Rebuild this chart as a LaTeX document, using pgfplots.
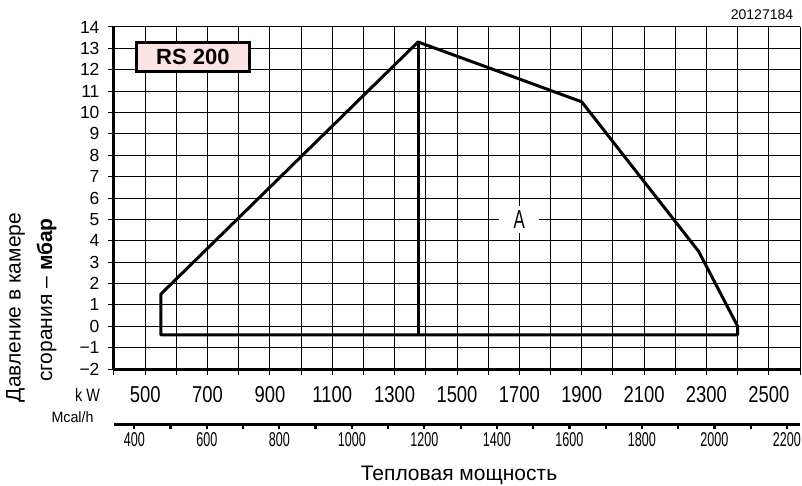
\documentclass[border=0pt]{standalone}
\usepackage{pgfplots}
\pgfplotsset{compat=1.18}
\usepackage{fontspec}
\setmainfont{Liberation Sans}
\usepackage{graphicx}
\definecolor{boxpink}{RGB}{252,228,228}
\newcommand\nar[2]{\scalebox{#1}[1]{#2}}
\begin{document}
\begin{tikzpicture}
\path[use as bounding box] (-114pt,-116pt) rectangle (688pt,369pt);
\begin{axis}[
 at={(0pt,0pt)}, anchor=south west,
 scale only axis, width=686pt, height=342pt,
 xmin=400, xmax=2600, ymin=-2, ymax=14,
 xtick={500,700,...,2500}, minor xtick={400,600,...,2600},
 ytick={-2,-1,...,14},
 yticklabels={−2,−1,0,1,2,3,4,5,6,7,8,9,10,11,12,13,14},
 xticklabel={\nar{0.8}{\pgfmathprintnumber[fixed,precision=0,1000 sep={},assume math mode=true]{\tick}}},
 grid=both,
 major grid style={black, line width=1pt},
 minor grid style={black, line width=1pt},
 axis x line=bottom, axis y line=left,
 xtick pos=bottom, ytick pos=left,
 axis line style={black, line width=3pt, -},
 tick align=outside, major tick length=6pt, minor tick length=6pt,
 every tick/.append style={black, line width=1pt},
 yticklabel style={font=\fontsize{17.5}{17.5}\selectfont, xshift=-5pt},
 xticklabel style={font=\fontsize{23}{23}\selectfont, inner sep=0pt, anchor=north, yshift=-11pt},
 clip=false,
]
\addplot[black, line width=3pt, line join=round, line cap=round] coordinates {(550,1.5) (1375,13.3) (1900,10.5) (2275,3.5) (2400,0) (2400,-0.4) (550,-0.4) (550,1.5)};
\addplot[black, line width=3pt] coordinates {(1375,13.3) (1375,-0.4)};
\node[fill=white, inner sep=0pt, minimum width=40pt, minimum height=27pt, font=\fontsize{26}{26}\selectfont] at (axis cs:1700,5) {\nar{0.65}{A}};
\node[draw, line width=3pt, fill=boxpink, minimum width=113pt, minimum height=29pt, inner sep=0pt, font=\fontsize{22}{22}\selectfont\bfseries] at (axis cs:653,12.6) {RS 200};
\end{axis}
\begin{axis}[
 at={(0pt,-55pt)}, anchor=south west,
 scale only axis, width=686pt, height=1pt,
 xmin=344, xmax=2236, ymin=0, ymax=1,
 axis y line=none, axis x line=bottom, ytick=\empty,
 axis line style={black, line width=3pt, -},
 xtick={400,600,...,2200}, minor xtick={500,700,...,2100},
 tick align=outside, major tick length=4.5pt, minor tick length=4.5pt,
 every tick/.append style={black, line width=2.2pt},
 xticklabel={\nar{0.63}{\pgfmathprintnumber[fixed,precision=0,1000 sep={},assume math mode=true]{\tick}}},
 xticklabel style={font=\fontsize{20}{20}\selectfont, inner sep=0pt, anchor=north, yshift=-4pt},
]
\end{axis}
\node[font=\fontsize{18}{18}\selectfont] at (-26.5pt,-25.5pt) {\nar{0.8}{k W}};
\node[font=\fontsize{15}{15}\selectfont] at (-41.5pt,-48.5pt) {\nar{0.95}{Mcal/h}};
\node[font=\fontsize{14}{14}\selectfont] at (648pt,354pt) {20127184};
\node[rotate=90, font=\fontsize{21}{21}\selectfont] at (-98.5pt,61.5pt) {Давление в камере};
\node[rotate=90, font=\fontsize{21}{21}\selectfont] at (-67.5pt,69pt) {сгорания – \textbf{мбар}};
\node[font=\fontsize{21}{21}\selectfont] at (345pt,-106pt) {Тепловая мощность};
\end{tikzpicture}
\end{document}
